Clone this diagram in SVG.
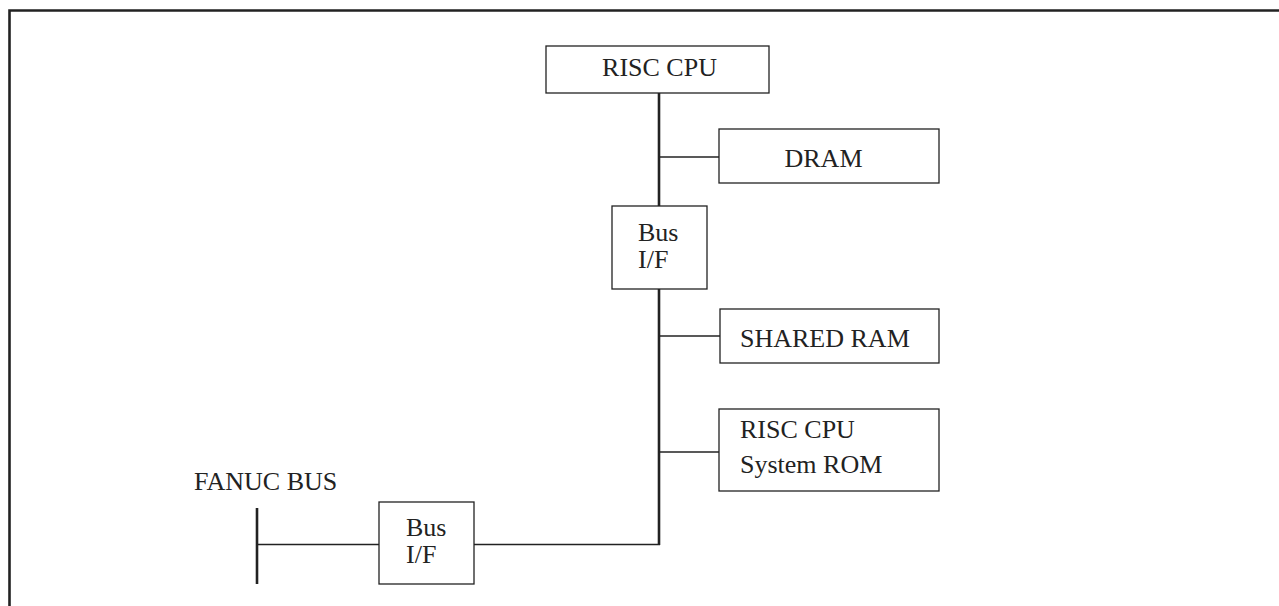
<svg xmlns="http://www.w3.org/2000/svg" width="1279" height="606" viewBox="0 0 1279 606">
<style>
.box{fill:#fff;stroke:#222;stroke-width:1.3}
.t{font-family:"Liberation Serif","Times New Roman",serif;font-size:26px;fill:#222}
.ln{stroke:#222;stroke-width:1.3;fill:none}
.bus{stroke:#222;stroke-width:2.6;fill:none}
</style>
<rect x="0" y="0" width="1279" height="606" fill="#fff"/>
<path d="M9.5 620 V10.5 H1290" fill="none" stroke="#222" stroke-width="2.6"/>
<g id="connectors">
<line class="bus" x1="659" y1="93" x2="659" y2="206"/>
<line class="bus" x1="659" y1="289" x2="659" y2="545"/>
<line class="ln" x1="659" y1="157" x2="719" y2="157"/>
<line class="ln" x1="659" y1="336" x2="720" y2="336"/>
<line class="ln" x1="659" y1="452" x2="719" y2="452"/>
<line class="ln" x1="474" y1="544.5" x2="660" y2="544.5"/>
<line class="ln" x1="257" y1="544.5" x2="379" y2="544.5"/>
</g>
<g id="fanuc-bus">
<line class="bus" x1="257" y1="508" x2="257" y2="584"/>
<text class="t" x="194" y="490">FANUC BUS</text>
</g>
<g id="risc-cpu">
<rect class="box" x="546" y="46" width="223" height="47"/>
<text class="t" x="659.5" y="76" text-anchor="middle">RISC CPU</text>
</g>
<g id="dram">
<rect class="box" x="719" y="129" width="220" height="54"/>
<text class="t" x="823.5" y="167" text-anchor="middle">DRAM</text>
</g>
<g id="bus-if-upper">
<rect class="box" x="612" y="206" width="95" height="83"/>
<text class="t" x="638" y="241">Bus</text>
<text class="t" x="638" y="268">I/F</text>
</g>
<g id="shared-ram">
<rect class="box" x="720" y="309" width="219" height="54"/>
<text class="t" x="740" y="347">SHARED RAM</text>
</g>
<g id="system-rom">
<rect class="box" x="719" y="409" width="220" height="82"/>
<text class="t" x="740" y="438">RISC CPU</text>
<text class="t" x="740" y="473">System ROM</text>
</g>
<g id="bus-if-lower">
<rect class="box" x="379" y="502" width="95" height="82"/>
<text class="t" x="406" y="536">Bus</text>
<text class="t" x="406" y="563">I/F</text>
</g>
</svg>
